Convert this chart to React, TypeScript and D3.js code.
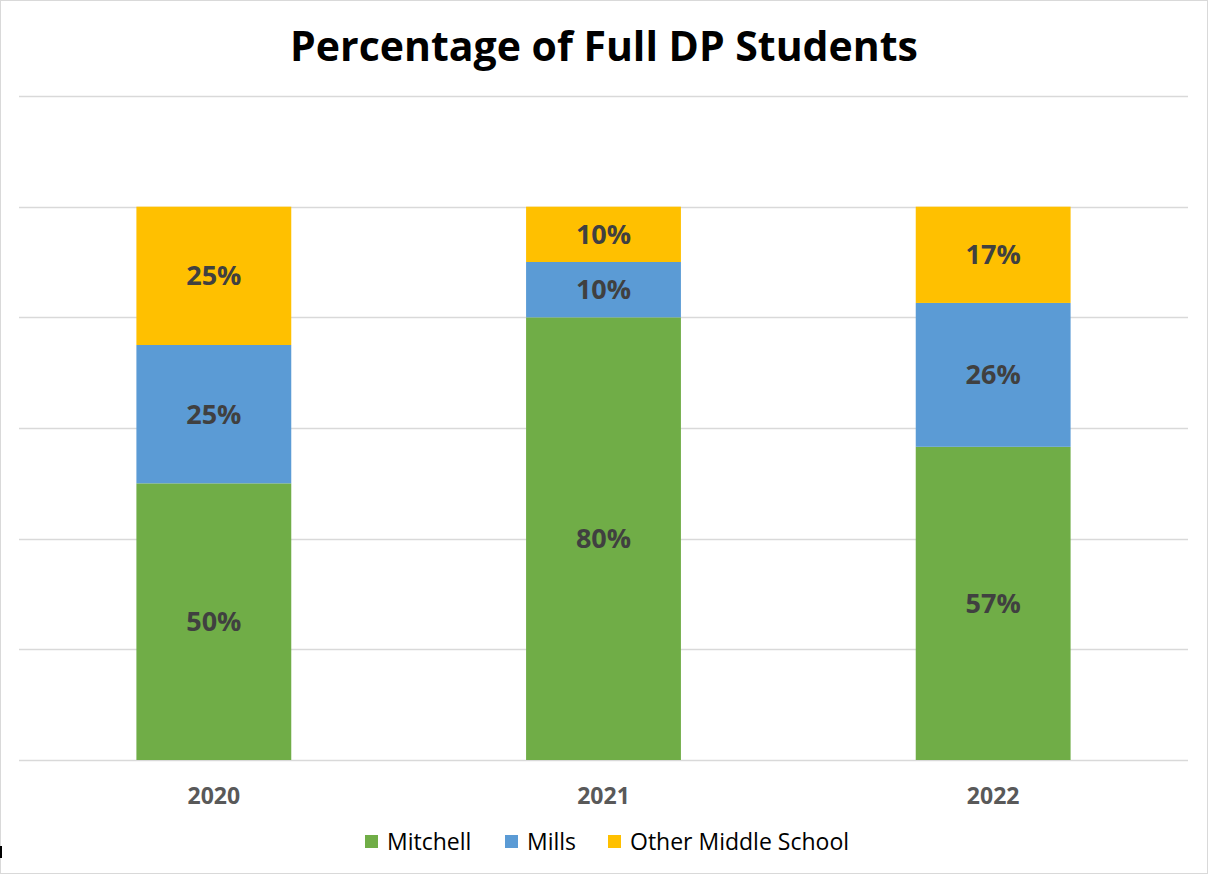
import React from "react";
import * as d3 from "d3";

const years = ["2020", "2021", "2022"];
const seriesNames = ["Mitchell", "Mills", "Other Middle School"];
const mitchell = [0.5, 0.8, 0.566];
const mills = [0.25, 0.1, 0.26];
const otherMiddle = [0.25, 0.1, 0.174];
const yTicks = [0, 0.2, 0.4, 0.6, 0.8, 1.0, 1.2];
const colors = ["#70AD47", "#5B9BD5", "#FFC000"];

const App = () => {
  const svgRef = React.useRef<SVGSVGElement>(null);

  React.useEffect(() => {
    const svg = d3.select(svgRef.current);
    svg.selectAll("*").remove();
    const font = "'Open Sans', sans-serif";

    const x = d3
      .scaleBand()
      .domain(years)
      .range([19, 1188])
      .paddingInner(0.6026)
      .paddingOuter(0.3013);

    const y = d3.scaleLinear().domain([0, 1.2]).range([760, 96]);

    // frame
    svg
      .append("rect")
      .attr("x", 0.5)
      .attr("y", 0.5)
      .attr("width", 1207)
      .attr("height", 873)
      .attr("fill", "white")
      .attr("stroke", "#d9d9d9");

    // title
    svg
      .append("text")
      .attr("x", 604)
      .attr("y", 61)
      .attr("text-anchor", "middle")
      .attr("font-family", font)
      .attr("font-weight", "bold")
      .attr("font-size", 41)
      .attr("fill", "#000")
      .text("Percentage of Full DP Students");

    // gridlines
    svg
      .append("g")
      .selectAll("line")
      .data(yTicks)
      .enter()
      .append("line")
      .attr("x1", 19)
      .attr("x2", 1188)
      .attr("y1", (d) => Math.round(y(d)) + 0.5)
      .attr("y2", (d) => Math.round(y(d)) + 0.5)
      .attr("stroke", "#d9d9d9")
      .attr("stroke-width", 1.5);

    const table = years.map((yr, i) => ({
      year: yr,
      Mitchell: mitchell[i],
      Mills: mills[i],
      "Other Middle School": otherMiddle[i],
    }));
    const stacked = d3.stack<any>().keys(seriesNames)(table);

    stacked.forEach((layer, si) => {
      const g = svg.append("g");
      g.selectAll("rect")
        .data(layer)
        .enter()
        .append("rect")
        .attr("x", (d: any) => x(d.data.year)!)
        .attr("y", (d) => y(d[1]))
        .attr("width", x.bandwidth())
        .attr("height", (d) => y(d[0]) - y(d[1]))
        .attr("fill", colors[si]);

      g.selectAll("text")
        .data(layer)
        .enter()
        .append("text")
        .attr("x", (d: any) => x(d.data.year)! + x.bandwidth() / 2)
        .attr("y", (d) => (y(d[0]) + y(d[1])) / 2)
        .attr("dy", "0.35em")
        .attr("text-anchor", "middle")
        .attr("font-family", font)
        .attr("font-weight", "bold")
        .attr("font-size", 27)
        .attr("fill", "#404040")
        .text((d) => `${Math.round((d[1] - d[0]) * 100)}%`);
    });

    // x axis labels
    svg
      .append("g")
      .selectAll("text")
      .data(years)
      .enter()
      .append("text")
      .attr("x", (d) => x(d)! + x.bandwidth() / 2)
      .attr("y", 796)
      .attr("dy", "0.35em")
      .attr("text-anchor", "middle")
      .attr("font-family", font)
      .attr("font-weight", "bold")
      .attr("font-size", 23)
      .attr("fill", "#595959")
      .text((d) => d);

    // legend
    const legendX = [365, 505, 608];
    const lg = svg.append("g");
    seriesNames.forEach((name, i) => {
      lg.append("rect")
        .attr("x", legendX[i])
        .attr("y", 835)
        .attr("width", 13)
        .attr("height", 13)
        .attr("fill", colors[i]);
      lg.append("text")
        .attr("x", legendX[i] + 22)
        .attr("y", 842)
        .attr("dy", "0.35em")
        .attr("font-family", font)
        .attr("font-size", 23)
        .attr("fill", "#000")
        .text(name);
    });

    // stray mark at lower left
    svg
      .append("rect")
      .attr("x", 0)
      .attr("y", 846)
      .attr("width", 2)
      .attr("height", 12)
      .attr("fill", "#000");
  }, []);

  return (
    <svg
      ref={svgRef}
      width="1210"
      height="875"
      style={{ position: "absolute", left: 0, top: 0 }}
    ></svg>
  );
};

export default App;
